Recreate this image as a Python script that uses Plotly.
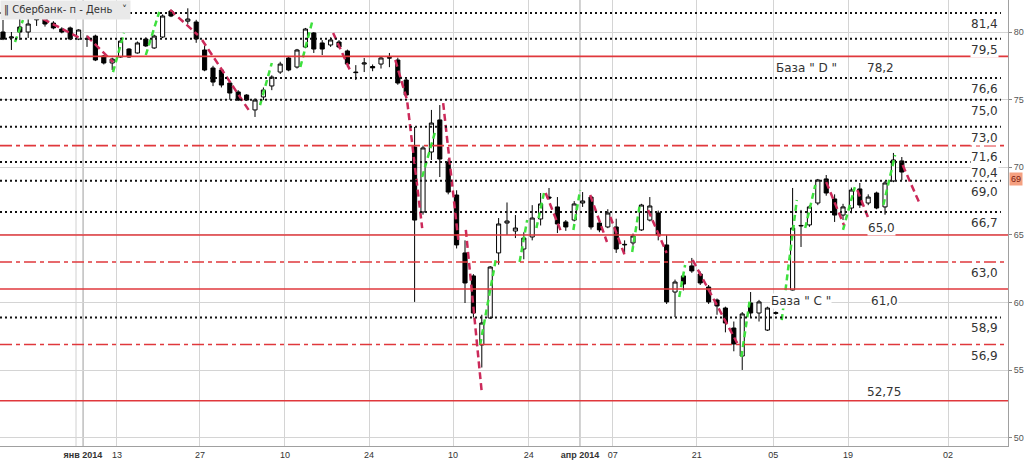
import plotly.graph_objects as go

# ---------------- data ----------------
bar_idx = [0,1,2,3,4,5,6,7,8,9,10,11,12,13,14,15,16,17,18,19,20,
           22,23,24,25,26,27,28,29,30,31,32,33,34,35,36,37,38,39,40,
           41,42,43,44,45,46,47,48,49,50,51,52,53,54,55,56,57,58,59,60,
           61,62,63,64,65,66,67,68,69,70,71,72,73,74,75,76,77,78,79,80,
           81,82,83,84,85,86,87,88,89,90,91,92,
           94,95,96,97,98,99,100,101,102,103,104,105,106,107]
open_ = [80.0,79.56,80.37,80.0,81.0,80.96,80.66,80.22,80.3,79.48,79.48,79.7,78.23,77.71,78.15,78.74,78.45,79.48,78.82,79.63,81.55,
         80.8,80.74,78.67,77.34,77.19,76.23,75.57,75.34,74.24,75.2,76.01,77.04,78.08,77.41,78.89,79.93,79.19,79.04,79.26,
         78.6,77.04,77.63,77.45,77.63,78.1,77.93,76.45,71.5,66.7,71.13,73.5,70.39,67.95,63.67,61.97,56.87,58.86,63.67,65.88,
         65.29,63.96,64.85,66.18,67.8,67.07,65.96,66.1,67.36,67.8,65.88,65.59,65.59,64.26,64.41,65.37,66.1,66.62,64.26,60.78,
         61.97,62.71,62.11,61.15,60.19,59.6,58.12,56.05,59.97,59.23,57.97,59.2,
         60.93,65.66,65.74,67.36,69.14,67.66,66.47,66.99,68.4,67.36,68.1,67.07,68.99,70.47]
high_ = [80.89,80.0,81.0,81.0,81.25,81.1,80.8,80.35,80.4,80.2,79.75,79.8,78.3,78.1,79.4,78.8,79.3,79.6,79.8,81.3,81.65,
         81.75,80.9,79.0,77.5,77.3,76.3,75.7,75.4,75.1,75.9,76.8,77.8,78.2,78.75,80.3,80.0,79.4,79.6,79.4,
         78.7,77.55,78.08,77.6,78.2,78.45,78.1,76.6,72.98,71.6,74.24,74.6,70.6,68.3,64.6,62.1,59.1,62.7,66.25,67.4,
         66.47,65.2,67.2,68.1,68.47,67.8,66.1,67.5,68.17,67.9,66.0,66.9,66.2,64.6,65.1,67.3,67.8,66.8,65.0,61.7,
         62.2,63.3,62.3,61.3,60.3,59.7,58.6,59.3,60.78,60.2,59.7,59.35,
         68.47,66.85,67.2,69.14,69.43,68.0,67.3,68.5,68.84,68.0,68.2,68.99,71.06,70.76]
low_ = [79.4,78.67,79.41,79.56,80.45,80.4,80.2,79.9,79.4,79.4,78.9,77.85,77.6,77.19,78.1,78.1,78.4,78.9,78.75,79.55,81.1,
        80.6,79.2,77.1,76.0,75.9,75.0,74.9,74.9,73.72,74.97,75.7,76.9,77.1,77.3,78.8,78.45,78.3,78.9,78.8,
        77.4,76.45,77.04,77.1,77.3,77.4,76.1,75.2,60.05,66.5,70.54,69.28,68.0,64.0,59.97,58.9,55.2,58.8,62.8,65.0,
        64.77,63.2,64.6,65.7,67.6,65.14,65.3,66.0,67.07,65.4,65.2,65.5,63.67,63.67,64.2,65.3,66.0,64.6,59.9,58.94,
        60.9,62.2,61.3,59.9,59.1,57.8,56.4,55.02,58.9,58.6,57.9,59.1,
        60.9,64.11,65.6,67.2,67.9,65.96,66.1,66.6,67.0,67.2,66.9,66.5,68.9,69.06]
close_ = [79.48,79.63,80.0,80.59,80.9,80.59,80.3,80.0,79.48,80.15,79.5,77.93,77.71,78.0,79.33,78.15,79.19,78.97,79.7,81.18,81.18,
          80.96,79.48,77.19,76.3,76.08,75.49,74.97,74.97,74.97,75.71,76.67,77.63,77.19,78.67,80.22,78.74,78.74,79.41,78.89,
          77.63,77.0,77.71,77.35,78.08,78.08,76.23,75.34,66.1,71.43,73.27,70.61,68.17,64.26,61.45,59.23,58.49,62.63,65.81,66.03,
          65.51,64.77,66.25,67.29,67.73,65.81,65.59,67.29,67.51,65.59,65.37,66.62,63.96,64.3,64.92,67.21,67.14,65.0,60.05,61.52,
          61.37,62.34,61.45,60.05,59.75,58.49,56.94,59.16,59.23,60.05,59.6,59.25,
          65.51,65.7,67.07,69.06,68.1,66.47,67.07,68.32,67.21,67.8,66.99,68.84,70.54,69.65]

# wave segments (bar index, price)
green_waves = [
    [(1.43,79.26),(2.38,80.89)], [(13.1,77.04),(14.4,79.93)], [(17.0,78.3),(18.6,81.48)],
    [(30.6,74.6),(32.0,77.71)], [(35.4,77.41),(36.8,80.74)], [(49.9,69.28),(51.4,72.54)],
    [(56.8,56.87),(58.7,63.3)], [(61.5,63.0),(62.4,66.1)], [(63.5,65.51),(64.4,68.1)],
    [(67.9,65.37),(68.7,68.32)], [(74.9,63.74),(75.8,67.21)], [(80.5,60.41),(81.2,62.78)],
    [(87.9,55.98),(88.9,60.19)], [(92.7,58.71),(94.5,67.58)], [(95.5,65.51),(96.7,68.69)],
    [(100.0,65.37),(101.4,68.54)], [(104.8,67.21),(106.2,70.91)],
]
red_waves = [
    [(4.76,80.96),(9.4,79.48)], [(10.0,79.7),(13.1,77.78)], [(19.9,81.63),(23.2,79.78)],
    [(23.7,79.41),(29.4,74.09)], [(39.3,79.93),(41.3,77.19)], [(46.7,77.93),(48.1,74.97),(49.9,65.51)],
    [(52.4,74.75),(54.2,64.63)], [(55.1,65.37),(57.0,53.32)], [(64.6,68.1),(66.5,65.14)],
    [(69.9,67.95),(71.9,64.48)], [(72.3,66.33),(74.0,63.52)], [(76.8,66.84),(79.0,63.67)],
    [(82.1,63.15),(87.4,57.01)], [(98.0,68.91),(100.1,65.74)], [(101.7,68.32),(103.1,66.1)],
    [(107.1,70.17),(109.2,67.21)],
]

dotted_levels = [81.4, 79.5, 76.6, 75.0, 73.0, 70.4, 69.0, 66.7, 58.9]
dotted_labels = ["81,4", "79,5", "76,6", "75,0", "73,0", "70,4", "69,0", "66,7", "58,9"]
dashdot_levels = [71.6, 63.0, 56.9]
dashdot_labels = ["71,6", "63,0", "56,9"]
solid_levels = [78.2, 65.0, 61.0, 52.75]
solid_labels = ["78,2", "65,0", "61,0", "52,75"]
base_labels = ['База " D "', 'База " C "']

tick_pos = [9.52, 13.57, 23.45, 33.57, 43.57, 53.57, 62.6, 68.7, 72.6, 82.6, 91.7, 100.6, 112.5]
tick_text = ["<b>янв 2014</b>", "13", "27", "10", "24", "10", "24", "<b>апр 2014</b>", "07", "21", "05", "19", "02"]
y_ticks = [50, 55, 60, 65, 70, 75, 80]
last_price = 69.15
last_label = "69"
title_text = "\u2016 Сбербанк- п - День   \u02c5"

# ---------------- figure ----------------
fig = go.Figure()
fig.add_trace(go.Candlestick(
    x=bar_idx, open=open_, high=high_, low=low_, close=close_,
    increasing=dict(line=dict(color="#000000", width=1), fillcolor="#ffffff"),
    decreasing=dict(line=dict(color="#000000", width=1), fillcolor="#000000"),
    whiskerwidth=0, showlegend=False, hoverinfo="skip"))

def seg_xy(segs):
    xs, ys = [], []
    for s in segs:
        for (a, b) in s:
            xs.append(a); ys.append(b)
        xs.append(None); ys.append(None)
    return xs, ys

gx, gy = seg_xy(green_waves)
rx, ry = seg_xy(red_waves)
fig.add_trace(go.Scatter(x=gx, y=gy, mode="lines", line=dict(color="#3ee03e", width=2.5, dash="6px,4px"),
                         showlegend=False, hoverinfo="skip"))
fig.add_trace(go.Scatter(x=rx, y=ry, mode="lines", line=dict(color="#cc2a5a", width=2.5, dash="7px,4px"),
                         showlegend=False, hoverinfo="skip"))

shapes = []
# extra vertical lines
for xv, col in [(8.69, "#d0d0d0"), (tick_pos[0], "#8a8a8a"), (tick_pos[7], "#8a8a8a")]:
    shapes.append(dict(type="line", xref="x", yref="paper", x0=xv, x1=xv, y0=0, y1=1,
                       line=dict(color=col, width=1), layer="below"))
for v in dotted_levels:
    shapes.append(dict(type="line", xref="paper", yref="y", x0=0, x1=0.993, y0=v, y1=v,
                       line=dict(color="#111111", width=2, dash="2px,3px")))
for v in dashdot_levels:
    shapes.append(dict(type="line", xref="paper", yref="y", x0=0, x1=1, y0=v, y1=v,
                       line=dict(color="#e0383c", width=1.6, dash="12px,4px,4px,4px")))
for v in solid_levels:
    shapes.append(dict(type="line", xref="paper", yref="y", x0=0, x1=1, y0=v, y1=v,
                       line=dict(color="#e0383c", width=1.6)))

ann = []
lab_font = dict(family="DejaVu Sans", size=12, color="#333333")
right_x = 116.9
for v, t in zip(dotted_levels, dotted_labels):
    ann.append(dict(x=right_x, y=v, text=t, showarrow=False, yshift=-11, font=lab_font,
                    bgcolor="#ffffff", borderpad=0))
for v, t in zip(dashdot_levels, dashdot_labels):
    ann.append(dict(x=right_x, y=v, text=t, showarrow=False, yshift=-11, font=lab_font,
                    bgcolor="#ffffff", borderpad=0))
# solid-level labels
ann.append(dict(x=104.5, y=solid_levels[0], text=solid_labels[0], showarrow=False, yshift=-12, font=lab_font))
ann.append(dict(x=95.7, y=solid_levels[0], text=base_labels[0], showarrow=False, yshift=-12, font=lab_font))
ann.append(dict(x=104.6, y=solid_levels[1], text=solid_labels[1], showarrow=False, yshift=7, font=lab_font,
                bgcolor="#ffffff", borderpad=0))
ann.append(dict(x=104.9, y=solid_levels[2], text=solid_labels[2], showarrow=False, yshift=-12, font=lab_font,
                bgcolor="#ffffff", borderpad=0))
ann.append(dict(x=95.0, y=solid_levels[2], text=base_labels[1], showarrow=False, yshift=-12, font=lab_font,
                bgcolor="#ffffff", borderpad=0))
ann.append(dict(x=104.9, y=solid_levels[3], text=solid_labels[3], showarrow=False, yshift=9, font=lab_font))
# last price tag
ann.append(dict(xref="paper", x=1.0, xanchor="left", y=last_price, text=last_label, showarrow=False,
                font=dict(family="Liberation Sans", size=9, color="#7a1a10"), bgcolor="#f5a080",
                borderpad=1, xshift=1))
# title box
ann.append(dict(xref="paper", yref="paper", x=0, y=1, xanchor="left", yanchor="top", text=title_text,
                showarrow=False, font=dict(family="DejaVu Sans", size=10, color="#333333"),
                bgcolor="#e9e9e9", borderpad=3))

fig.update_layout(
    width=1024, height=461,
    margin=dict(l=0, r=16, t=0, b=15),
    paper_bgcolor="#ffffff", plot_bgcolor="#ffffff",
    shapes=shapes, annotations=ann,
    xaxis=dict(range=[-0.357, 119.64], tickmode="array", tickvals=tick_pos, ticktext=tick_text,
               showgrid=True, gridcolor="#d4d4d4", gridwidth=1, zeroline=False,
               showline=True, linecolor="#a0a0a0", ticks="", rangeslider=dict(visible=False),
               tickfont=dict(family="Liberation Sans", size=9, color="#333333")),
    yaxis=dict(range=[49.40, 82.365], side="right", tickmode="array", tickvals=y_ticks,
               showgrid=True, gridcolor="#d4d4d4", gridwidth=1, zeroline=False,
               showline=True, linecolor="#a0a0a0", ticks="outside", ticklen=3, tickcolor="#888888",
               tickfont=dict(family="Liberation Sans", size=9, color="#555555")),
    font=dict(family="DejaVu Sans"),
)

fig.write_html("out.html", config={"displayModeBar": False},
               post_script="document.body.style.margin='0';")
